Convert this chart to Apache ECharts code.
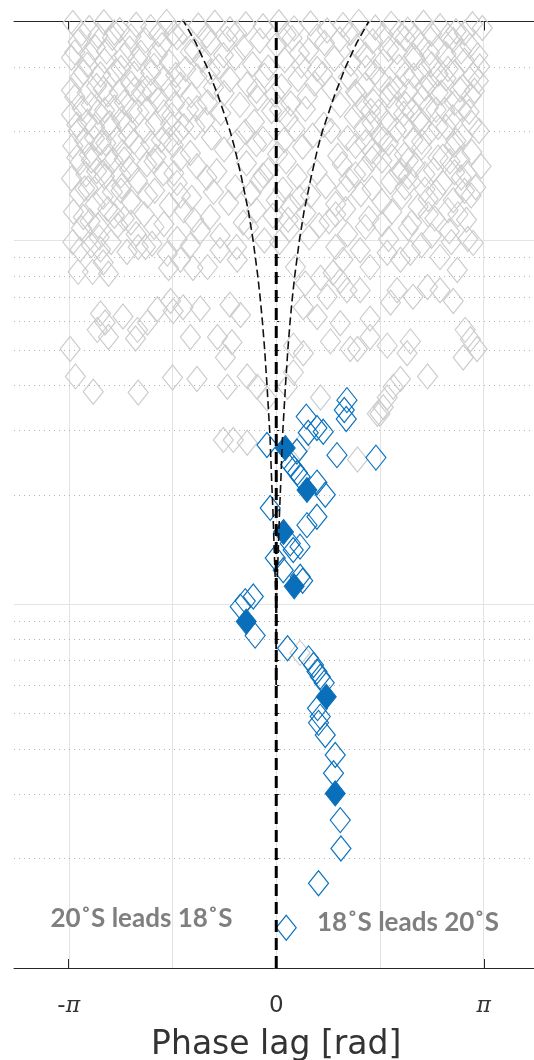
<!DOCTYPE html>
<html>
<head>
<meta charset="utf-8">
<script src="https://cdn.jsdelivr.net/npm/echarts@6/dist/echarts.min.js"></script>
<style>
  html, body { margin: 0; padding: 0; background: #ffffff; }
  #chart { width: 534px; height: 1060px; }
</style>
</head>
<body>
<div id="chart"></div>
<script>
// Phase lag between 18°S and 20°S versus period (log scale).
const PI = Math.PI;

// Axis ranges
const X_MIN = -3.97;
const X_MAX = 3.97;
const Y_MIN = 1;
const Y_MAX = 400;

// Ticks and labels
const xTickValues = [-PI, -PI / 2, 0, PI / 2, PI];
const xLabelValues = [-PI, 0, PI];
const xLabelTexts = ['-π', '0', 'π'];
const xGridValues = [-PI, -PI / 2, 0, PI / 2, PI];
const yMajorValues = [10, 100];
const yMinorValues = [2, 3, 4, 5, 6, 7, 8, 9, 20, 30, 40, 50, 60, 70, 80, 90, 200, 300];

// Annotations
const leftNote = '20˚S leads 18˚S';
const rightNote = '18˚S leads 20˚S';
const xName = 'Phase lag [rad]';

// Reference lag envelope: period -> |phase lag|
const envPeriod = [6, 8, 11, 14, 18, 22, 29, 40, 50, 60, 70, 80, 100, 120, 150, 180, 200, 250, 300, 350, 400];
const envLag = [0, 0, 0.01, 0.03, 0.05, 0.07, 0.095, 0.14, 0.175, 0.21, 0.245, 0.28, 0.35, 0.42, 0.53, 0.63, 0.70, 0.88, 1.05, 1.22, 1.40];

// Non-significant estimates [phase lag, period]
const grayPoints = [
  [-3.08,396],[-2.83,384],[-2.61,398],[-2.37,379],[-2.12,392],[-1.9,386],[-1.66,399],[-1.41,375],[-1.18,390],[-0.93,397],[-0.7,381],[-0.46,393],[-0.2,388],[0.04,398],[0.27,383],[0.52,395],[0.77,378],[1.01,391],[1.25,399],[1.5,385],[1.74,394],[1.99,380],[2.23,397],[2.48,388],[2.72,376],[2.97,393],[3.12,384],
  [-2.95,371],[-2.7,366],[-2.45,373],[-2.2,364],[-1.78,369],[-1.55,372],[-1.05,366],[-0.6,371],[0.15,368],[0.62,364],[1.12,372],[1.62,367],[1.86,373],[2.1,363],[2.35,370],[2.6,366],[2.85,372],
  [-3.0,352],[-2.74,340],[-2.48,361],[-2.22,337],[-1.98,355],[-1.73,344],[-1.5,362],[-1.24,334],[-0.99,350],[-0.74,358],[-0.5,339],[-0.25,354],[0.0,345],[0.24,360],[0.49,333],[0.73,349],[0.96,357],[1.22,341],[1.46,353],[1.7,336],[1.95,359],[2.19,346],[2.44,338],[2.68,356],[2.93,343],
  [-3.05,329],[-2.82,324],[-2.57,331],[-2.3,322],[-2.05,328],[-1.8,325],[-1.3,330],[-0.8,323],[0.35,327],[1.35,324],[1.83,330],[2.08,322],[2.32,328],[2.57,325],[2.8,331],[3.05,323],
  [-3.1,318],[-2.86,304],[-2.6,312],[-2.35,298],[-2.1,316],[-1.85,302],[-1.62,309],[-1.37,296],[-1.12,314],[-0.87,301],[-0.62,318],[-0.36,305],[-0.12,299],[0.13,313],[0.38,303],[0.62,296],[0.88,316],[1.13,306],[1.37,298],[1.62,311],[1.86,300],[2.1,317],[2.35,305],[2.6,296],[2.85,312],[3.08,301],
  [-2.92,290],[-2.66,286],[-2.42,292],[-2.15,287],[-1.9,289],[-1.52,285],[-1.0,291],[0.7,287],[1.5,290],[1.95,286],[2.2,292],[2.45,287],[2.7,290],[2.98,285],
  [-2.98,280],[-2.72,266],[-2.47,284],[-2.2,270],[-1.96,262],[-1.7,279],[-1.45,268],[-1.2,283],[-0.95,264],[-0.7,277],[-0.44,269],[-0.18,284],[0.08,265],[0.33,278],[0.58,270],[0.84,262],[1.09,281],[1.34,267],[1.58,276],[1.83,263],[2.08,284],[2.32,271],[2.57,279],[2.82,264],[3.06,275],
  [-3.1,259],[-2.86,255],[-2.62,261],[-2.38,256],[-2.14,260],[-1.88,257],[-1.6,262],[-0.3,258],[1.2,256],[1.72,261],[2.0,257],[2.25,262],[2.5,255],[2.78,260],[3.0,258],
  [-3.05,248],[-2.8,236],[-2.55,252],[-2.3,240],[-2.04,255],[-1.79,243],[-1.54,237],[-1.29,251],[-1.04,240],[-0.79,254],[-0.55,236],[-0.28,246],[-0.02,252],[0.22,238],[0.47,249],[0.97,236],[1.22,253],[1.47,241],[1.71,250],[1.96,237],[2.21,247],[2.45,255],[2.7,239],[2.95,250],
  [-2.94,231],[-2.7,226],[-2.45,232],[-2.18,228],[-1.95,230],[-1.7,225],[-1.2,231],[0.05,229],[1.3,232],[1.55,226],[1.8,231],[2.05,227],[2.3,232],[2.55,228],[2.8,230],
  [-3.1,222],[-2.86,212],[-2.6,228],[-2.34,216],[-2.08,225],[-1.83,210],[-1.58,221],[-1.33,229],[-1.08,214],[-0.84,224],[-0.33,212],[-0.07,227],[0.18,216],[0.44,230],[1.18,219],[1.43,227],[1.68,211],[1.93,223],[2.18,215],[2.42,229],[2.67,218],[2.92,226],
  [-3.02,208],[-2.75,205],[-2.52,210],[-2.27,206],[-1.6,209],[-1.4,206],[0.72,208],[1.45,210],[1.95,206],[2.2,209],[2.45,205],[2.96,210],
  [-3.0,200],[-2.75,191],[-2.5,204],[-2.24,194],[-1.99,201],[-1.74,189],[-1.48,198],[-1.23,205],[-0.98,192],[-0.47,199],[-0.2,190],[0.28,203],[0.55,194],[0.83,200],[1.08,191],[1.32,204],[1.58,195],[1.82,201],[2.07,189],[2.32,198],[2.57,205],[2.82,193],[3.07,200],
  [-2.9,188],[-2.65,186],[-2.42,190],[-2.15,187],[-1.9,185],[-1.62,189],[-0.6,187],[0.12,189],[1.35,186],[1.62,190],[2.2,187],[2.72,188],
  [-3.08,182],[-2.83,172],[-2.58,185],[-2.33,175],[-2.07,180],[-1.82,170],[-1.56,183],[-1.3,174],[-0.79,178],[-0.3,184],[0.02,173],[0.4,181],[0.93,171],[1.2,182],[1.45,176],[1.7,185],[1.94,172],[2.2,180],[2.45,169],[2.7,183],[2.96,175],
  [-3.02,169],[-2.8,166],[-2.55,170],[-2.3,167],[-1.85,165],[-1.45,168],[1.45,168],[1.75,170],[2.0,166],[2.52,170],[2.78,167],
  [-2.97,164],[-2.72,155],[-2.47,166],[-2.22,157],[-1.96,162],[-1.71,153],[-1.2,160],[-0.9,155],[-0.45,163],[-0.12,156],[0.15,165],[0.62,154],[1.0,162],[1.33,157],[1.6,166],[1.86,154],[2.1,161],[2.38,156],[2.63,165],[2.88,153],[3.1,160],
  [-2.88,152],[-2.6,155],[-2.35,151],[-1.55,153],[-0.2,151],[1.2,152],[1.9,155],[2.25,152],[2.7,154],
  [-3.1,148],[-2.85,139],[-2.6,150],[-2.34,141],[-2.1,146],[-1.84,137],[-1.5,144],[-1.05,149],[-0.62,140],[-0.25,146],[0.1,138],[0.32,150],[0.75,141],[1.1,147],[1.45,139],[1.73,145],[2.0,150],[2.25,138],[2.52,144],[2.8,149],[3.02,140],
  [-2.9,139],[-2.62,132],[-2.35,137],[-1.45,133],[-0.95,136],[0.35,131],[1.05,139],[1.95,140],[2.3,130],[2.85,137],
  [-2.98,134],[-2.74,126],[-2.48,136],[-2.2,128],[-1.95,133],[-1.62,125],[-1.28,131],[-0.72,127],[-0.38,135],[0.0,129],[0.22,124],[0.52,133],[0.9,126],[1.28,134],[1.6,128],[1.9,132],[2.15,124],[2.42,136],[2.68,129],[2.95,133],
  [-3.07,120],[-2.82,113],[-2.55,122],[-2.3,115],[-2.0,118],[-1.7,111],[-1.4,121],[-1.0,116],[-0.5,112],[-0.3,121],[0.18,114],[0.45,119],[0.8,113],[1.05,122],[1.4,115],[1.75,120],[2.05,112],[2.3,118],[2.6,121],[2.88,114],
  [-2.92,116],[-2.7,110],[-2.45,117],[-2.2,112],[-1.25,114],[-0.05,117],[0.9,118],[1.6,111],[2.4,115],[2.75,118],
  [-2.95,108],[-2.68,102],[-2.4,110],[-2.12,104],[-1.85,109],[-1.5,101],[-1.15,106],[-0.85,103],[-0.42,109],[-0.18,100],[0.2,107],[0.5,102],[0.65,110],[1.08,104],[1.35,109],[1.7,101],[2.0,108],[2.35,103],[2.62,106],[2.9,101],
  [-3.08,99],[-2.8,97],[-2.5,99],[-1.98,96],[-1.3,97],[-0.6,96],[0.05,99],[0.9,96],[2.2,97],[2.65,99],
  [-2.97,94.5],[-2.66,94.5],[-2.26,93],[-2.09,96],[-1.88,98],[-3.0,82],[-2.78,82],[-2.54,81],[-2.62,87],[-1.65,92],[-1.63,84],
  [-2.66,63],[-2.59,59.5],[-2.54,54.3],[-2.71,56.8],[-2.32,61.8],[-2.1,56.8],[-2.13,53.8],[-1.95,59.5],[-1.8,64.7],[-1.6,68.2],[-1.56,64],
  [-3.12,50.3],[-3.04,42.3],[-2.77,38.4],[-2.09,38.2],[-1.57,42],
  [-1.45,88.5],[-1.26,84],[-1.04,84.5],[-0.85,94],[-0.59,88.5],[-1.41,65.5],[-1.15,65],[-0.7,66.6],[-0.54,62.4],[-1.3,54.3],[-0.89,54.3],[-0.67,52.5],[-0.77,47.7],[-1.2,41.6],[-0.44,42.3],[-0.29,39.6],
  [0.29,84.5],[0.44,76.2],[0.67,79],[0.86,81.5],[1.01,88.5],[0.77,70],[0.41,65.5],[0.62,61.6],[0.97,59.2],[0.26,51.4],[0.41,49],[0.82,52.8],[1.12,50.3],[0.26,43.4],[0.17,39.6],[-0.14,36.8],[0.97,77.5],[1.07,73],
  [1.27,94],[1.42,84.5],[1.27,73],[1.68,92.5],[1.88,88.5],[2.03,92.5],[2.48,90],[2.74,83],[2.98,98.5],[1.83,73],[2.07,70],[2.29,74.5],[2.48,73],[2.68,68.2],[1.73,67.5],
  [1.42,61],[1.42,54.3],[1.23,50.3],[1.68,51.4],[2.03,52.8],[1.98,49],[2.86,56.8],[2.94,53.5],[3.04,50.3],[2.83,47.7],[2.29,42.3],[1.88,41.6],[1.77,39.6],[1.62,34.8],[1.57,33.4],
  [-0.74,39.6],[-0.65,28.3],[-0.44,27.8],[-0.8,28.3],[0.67,37],[1.23,25],[1.53,33.4],[1.68,37],[0.36,27],[0.36,7.35]
];

// Significant estimates [phase lag, period]
const blueOpen = [
  [1.07,36.4],[1.03,34.2],[1.06,32.3],[0.454,32.8],[0.616,30.5],[0.484,29.6],[0.711,29.8],[0.919,25.7],[1.509,25.3],
  [-0.141,27.4],[0.313,26.3],[0.22,24.2],[0.27,23.6],[0.32,23.0],[0.36,22.4],[0.616,21.6],[0.742,20.0],
  [-0.091,18.4],[0.616,17.4],[0.465,16.5],[0.212,14.7],[0.257,14.1],[0.36,14.4],[-0.015,13.4],[0.106,12.4],[0.363,11.9],[0.40,11.6],
  [-0.348,10.5],[-0.469,10.2],[-0.545,9.85],[-0.32,8.2],[0.171,7.57],[0.489,7.10],[0.564,6.81],[0.616,6.53],[0.666,6.32],[0.726,6.08],
  [0.625,5.18],[0.666,4.91],[0.640,4.72],[0.742,4.37],[0.893,3.85],[0.867,3.43],[0.969,2.55],[0.979,2.13],[0.640,1.71],[0.151,1.29]
];
const blueFilled = [
  [0.136,26.9],[0.465,20.6],[0.110,15.8],[0.272,11.2],[-0.454,8.96],[0.757,5.57],[0.893,3.02]
];

const AXIS_COLOR = '#262626';

const gridLines = [];
xGridValues.forEach(v => gridLines.push({ xAxis: v, lineStyle: { color: '#e3e3e3', width: 1, type: 'solid' } }));
yMajorValues.forEach(v => gridLines.push({ yAxis: v, lineStyle: { color: '#e3e3e3', width: 1, type: 'solid' } }));
yMinorValues.forEach(v => gridLines.push({ yAxis: v, lineStyle: { color: '#b3b3b3', width: 1, type: [1, 4] } }));

const chart = echarts.init(document.getElementById('chart'), null, { renderer: 'canvas' });

const xAxisBase = {
  type: 'value', min: X_MIN, max: X_MAX,
  axisLine: { show: true, lineStyle: { color: AXIS_COLOR, width: 1 } },
  axisTick: { show: true, inside: true, length: 9, customValues: xTickValues, lineStyle: { color: AXIS_COLOR, width: 1 } },
  splitLine: { show: false }
};

chart.setOption({
  animation: false,
  backgroundColor: '#ffffff',
  grid: { left: 14, top: 21.5, width: 524.5, height: 946.5, outerBoundsMode: 'none', containLabel: false },
  xAxis: [
    Object.assign({}, xAxisBase, {
      position: 'bottom',
      axisLabel: {
        show: true, customValues: xLabelValues, margin: 27,
        formatter: function (v) {
          const t = xLabelTexts[xLabelValues.indexOf(v)] || '';
          return t.split('').map(c => c === 'π' ? '{p|π}' : '{n|' + c + '}').join('');
        },
        rich: {
          n: { fontFamily: 'DejaVu Sans', fontSize: 23, color: '#333333' },
          p: { fontFamily: 'DejaVu Serif', fontStyle: 'italic', fontSize: 22, color: '#333333' }
        }
      },
      name: xName, nameLocation: 'middle', nameGap: 61,
      nameTextStyle: { fontFamily: 'DejaVu Sans', fontSize: 33, color: '#333333', verticalAlign: 'top' }
    }),
    Object.assign({}, xAxisBase, { position: 'top', axisLabel: { show: false } })
  ],
  yAxis: [
    {
      type: 'log', logBase: 10, min: Y_MIN, max: Y_MAX, position: 'left',
      axisLine: { show: true, lineStyle: { color: AXIS_COLOR, width: 1 } },
      axisTick: { show: true, inside: true, length: 4, customValues: yMinorValues, lineStyle: { color: AXIS_COLOR } },
      axisLabel: { show: false },
      splitLine: { show: false }, minorTick: { show: false }
    },
    {
      type: 'log', logBase: 10, min: Y_MIN, max: Y_MAX, position: 'left', offset: 0,
      axisLine: { show: false },
      axisTick: { show: true, inside: true, length: 8, customValues: yMajorValues, lineStyle: { color: AXIS_COLOR } },
      axisLabel: { show: false },
      splitLine: { show: false }
    }
  ],
  series: [
    {
      type: 'scatter', name: 'not significant', z: 2, silent: true,
      symbol: 'diamond', symbolSize: [20, 25],
      itemStyle: { color: 'rgba(0,0,0,0)', borderColor: '#cdcdcd', borderWidth: 1.2, opacity: 1 },
      data: grayPoints,
      markLine: {
        silent: true, z: 1, symbol: ['none', 'none'], label: { show: false },
        emphasis: { disabled: true }, animation: false,
        data: gridLines
      }
    },
    {
      type: 'scatter', name: 'significant', z: 3, silent: true,
      symbol: 'diamond', symbolSize: [20, 25],
      itemStyle: { color: 'rgba(0,0,0,0)', borderColor: '#0a72be', borderWidth: 1.2, opacity: 1 },
      data: blueOpen
    },
    {
      type: 'scatter', name: 'highlighted', z: 3, silent: true,
      symbol: 'diamond', symbolSize: [20, 25],
      itemStyle: { color: '#0a6fba', borderColor: '#0a6fba', borderWidth: 1, opacity: 1 },
      data: blueFilled
    },
    {
      type: 'line', name: 'envelope lead', z: 4, silent: true, showSymbol: false, symbol: 'none',
      lineStyle: { color: '#111111', width: 1.6, type: [8, 4] },
      data: envPeriod.map((p, i) => [-envLag[i], p])
    },
    {
      type: 'line', name: 'envelope lag', z: 4, silent: true, showSymbol: false, symbol: 'none',
      lineStyle: { color: '#111111', width: 1.6, type: [8, 4] },
      data: envPeriod.map((p, i) => [envLag[i], p])
    },
    {
      type: 'line', name: 'zero lag', z: 4, silent: true, showSymbol: false, symbol: 'none',
      lineStyle: { color: '#000000', width: 3, type: [12, 6] },
      data: [[0, Y_MIN], [0, Y_MAX]]
    }
  ],
  graphic: [
    {
      type: 'text', x: 141.5, y: 919, silent: true, z: 10,
      style: { text: leftNote, font: 'bold 26px Lato', fill: '#7f7f7f', align: 'center', verticalAlign: 'middle' }
    },
    {
      type: 'text', x: 408, y: 923, silent: true, z: 10,
      style: { text: rightNote, font: 'bold 26px Lato', fill: '#7f7f7f', align: 'center', verticalAlign: 'middle' }
    }
  ]
});
</script>
</body>
</html>
